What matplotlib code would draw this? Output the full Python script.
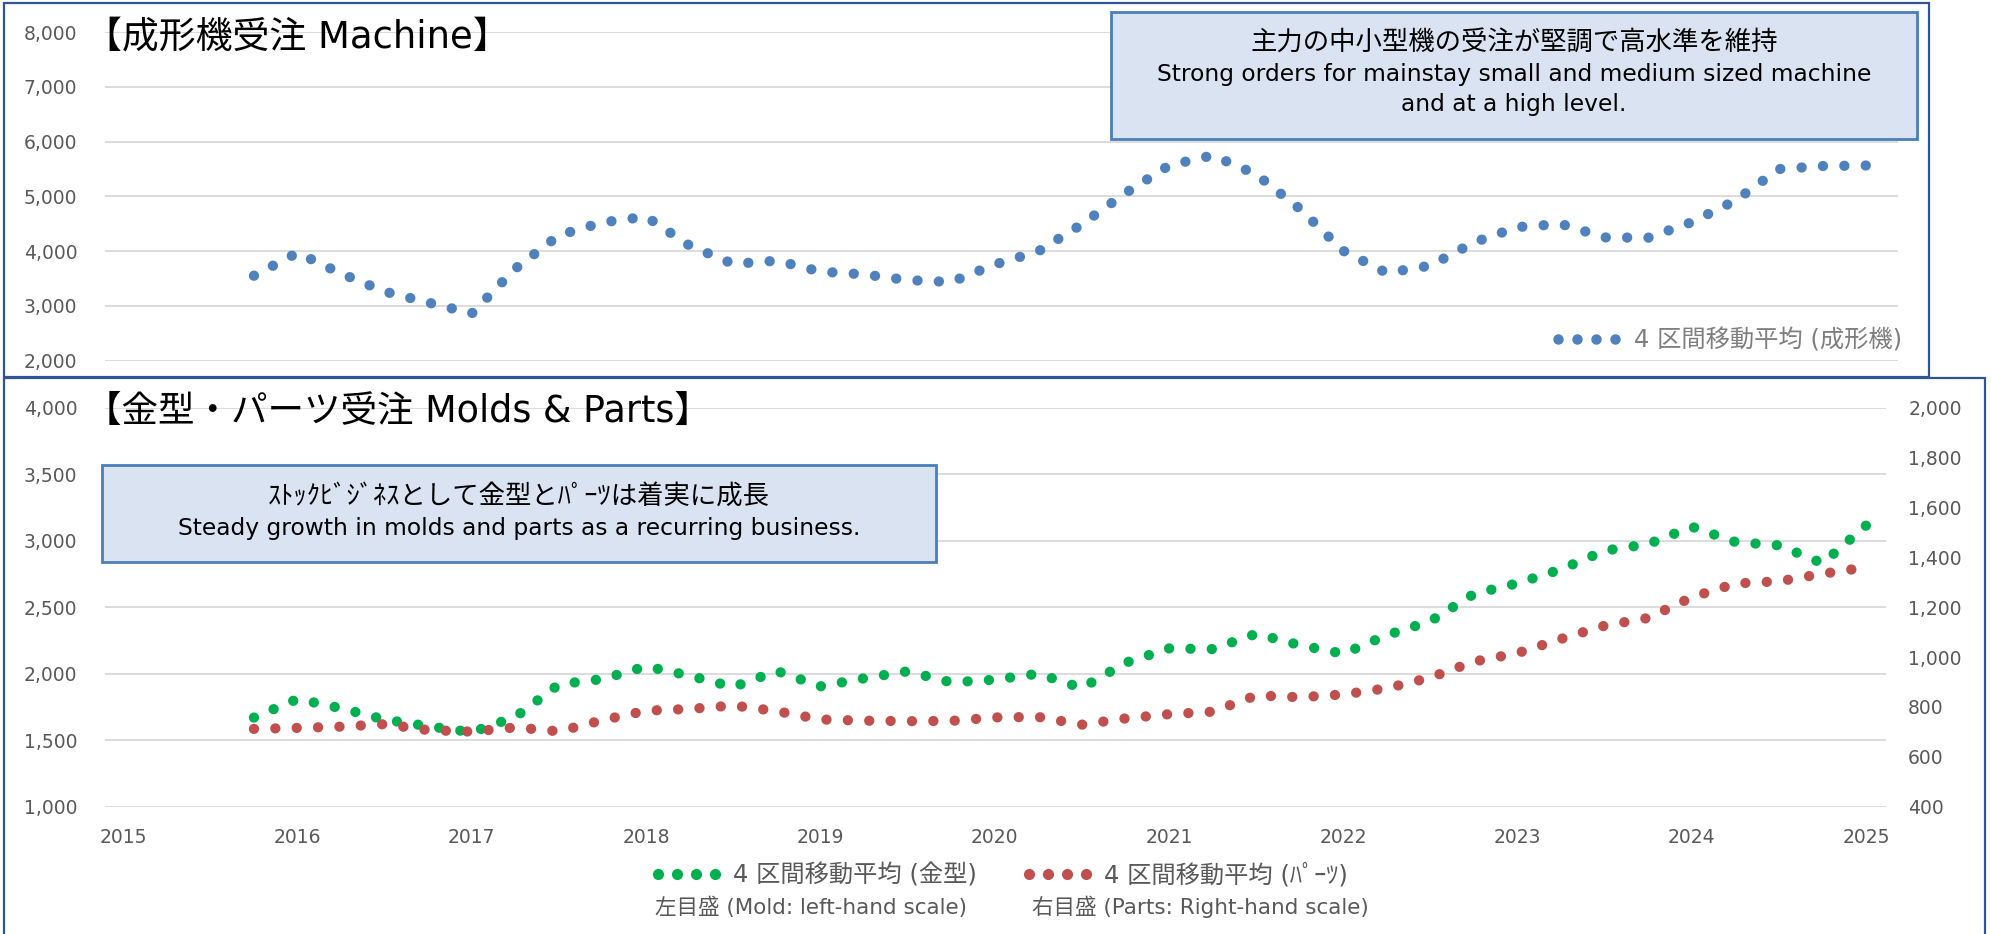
import numpy as np
import pandas as pd
import matplotlib
matplotlib.use('Agg')
import matplotlib.pyplot as plt
from matplotlib.patches import Rectangle
from matplotlib.lines import Line2D
from matplotlib.ticker import FuncFormatter

plt.rcParams['font.family'] = ['DejaVu Sans', 'Noto Sans CJK JP']

# 4-quarter moving averages, 2015Q4 .. 2025Q1
quarters = pd.period_range('2015Q4', '2025Q1', freq='Q')
machine = [3550, 3970, 3590, 3260, 3060, 2860, 3680, 4290, 4525, 4630,
           4100, 3765, 3825, 3625, 3575, 3470, 3435, 3755, 3995, 4490,
           5060, 5565, 5750, 5405, 4775, 4005, 3600, 3735, 4160, 4440,
           4495, 4250, 4245, 4530, 4925, 5500, 5555, 5565]
mold = [1670, 1810, 1740, 1655, 1605, 1560, 1675, 1920, 1960, 2055,
        1985, 1900, 2020, 1905, 1965, 2018, 1935, 1955, 2000, 1892,
        2082, 2190, 2185, 2300, 2215, 2150, 2290, 2395, 2600, 2680,
        2785, 2925, 2975, 3105, 2990, 2965, 2830, 3115]
parts = [712, 716, 721, 731, 707, 701, 718, 702, 747, 785,
         792, 806, 783, 750, 745, 743, 744, 758, 760, 729,
         754, 771, 781, 846, 839, 850, 875, 918, 982, 1016,
         1073, 1126, 1157, 1240, 1295, 1304, 1334, 1360]
years = list(range(2015, 2026))

t = quarters.year + (quarters.quarter - 1) / 4

W, H = 1991, 934
fig = plt.figure(figsize=(W / 100, H / 100), dpi=100)


def fx(px):
    return px / W


def fy(py):
    return 1 - py / H


LW = 7.4  # dot diameter in pt


def dots(ax, x, y, step=21.3):
    # round-dot line; spacing stretched a little so a dot lands on both ends
    p = ax.transData.transform(np.column_stack([x, y]))
    L = np.hypot(*np.diff(p, axis=0).T).sum()
    n = max(1, round(L / step))
    lw_px = LW * 100 / 72
    return dict(lw=LW, ls=(0, (0.01, (L - 0.5) / n / lw_px - 0.01)), dash_capstyle='round')


blue, green, red = '#4F81BD', '#00B050', '#C0504D'
grey = '#595959'
fmt = FuncFormatter(lambda v, p: f'{v:,.0f}')

# --- machine panel
ax1 = fig.add_axes([fx(105), fy(360.5), fx(1898) - fx(105), (360.5 - 32.3) / H])
ax1.set_xlim(2014.8956, 2025.1825)
ax1.set_ylim(2000, 8000)
ax1.plot(t, machine, color=blue, **dots(ax1, t, machine))
ax1.set_yticks(range(2000, 8001, 1000))
ax1.yaxis.set_major_formatter(fmt)
ax1.set_xticks([])
ax1.tick_params(axis='y', length=0, pad=20, labelsize=13.5, colors=grey)

# --- molds & parts panel
ax2 = fig.add_axes([fx(105), fy(806.7), fx(1886) - fx(105), (806.7 - 407.7) / H])
ax2.set_xlim(2014.8956, 2025.1136)
ax2.set_ylim(1000, 4000)
ax3 = ax2.twinx()
ax3.set_ylim(400, 2000)
ax2.plot(t, mold, color=green, **dots(ax2, t, mold))
ax3.plot(t, parts, color=red, lw=LW, ls=(0, (0.01, 2.07)), dash_capstyle='round')
ax2.set_yticks(range(1000, 4001, 500))
ax3.set_yticks(range(400, 2001, 200))
ax2.set_xticks(years)
ax2.yaxis.set_major_formatter(fmt)
ax3.yaxis.set_major_formatter(fmt)
ax2.tick_params(axis='y', length=0, pad=20, labelsize=13.5, colors=grey)
ax2.tick_params(axis='x', length=0, pad=15, labelsize=13.5, colors=grey)
ax3.tick_params(axis='y', length=0, pad=16, labelsize=13.5, colors=grey)

for ax in (ax1, ax2, ax3):
    for s in ax.spines.values():
        s.set_visible(False)
    ax.patch.set_alpha(0)
for ax in (ax1, ax2):
    ax.grid(axis='y', color='#D9D9D9', lw=1.3)
    ax.set_axisbelow(True)

# panel frames
fig.patches.append(Rectangle((fx(4), fy(377)), fx(1929) - fx(4), 374 / H, transform=fig.transFigure,
                             fill=False, ec='#2F5597', lw=1.6))
fig.patches.append(Rectangle((fx(4), fy(940)), fx(1985) - fx(4), 562 / H, transform=fig.transFigure,
                             fill=False, ec='#2F5597', lw=1.6))

# comment boxes
for x0, y0, x1, y1 in [(1111, 12, 1917, 139), (102, 465, 936, 562)]:
    fig.patches.append(Rectangle((fx(x0), fy(y1)), fx(x1) - fx(x0), (y1 - y0) / H,
                                 transform=fig.transFigure, fc='#DAE3F1', ec='#4A7EBB', lw=2))

fig.text(fx(85), fy(37), '【成形機受注 Machine】', fontsize=26.6, va='center')
fig.text(fx(85), fy(411), '【金型・パーツ受注 Molds & Parts】', fontsize=26.3, va='center')

fig.text(fx(1514), fy(43), '主力の中小型機の受注が堅調で高水準を維持', fontsize=19, ha='center', va='center')
fig.text(fx(1514), fy(75), 'Strong orders for mainstay small and medium sized machine',
         fontsize=16.8, ha='center', va='center')
fig.text(fx(1514), fy(104), 'and at a high level.', fontsize=16.8, ha='center', va='center')
fig.text(fx(519), fy(497), 'ｽﾄｯｸﾋﾞｼﾞﾈｽとして金型とﾊﾟｰﾂは着実に成長', fontsize=19, ha='center', va='center')
fig.text(fx(519), fy(528), 'Steady growth in molds and parts as a recurring business.',
         fontsize=16.8, ha='center', va='center')

# legends
leg_kw = dict(loc='center left', bbox_transform=fig.transFigure, frameon=False,
              borderpad=0, borderaxespad=0, numpoints=4, fontsize=17.5,
              handlelength=2.95)
fig.legend([Line2D([], [], ls='none', marker='o', ms=6.5, color=blue)], ['4 区間移動平均 (成形機)'],
           bbox_to_anchor=(fx(1550.7), fy(340)), handletextpad=0.48,
           labelcolor='#7F7F7F', **leg_kw)
fig.legend([Line2D([], [], ls='none', marker='o', ms=7, color=green)], ['4 区間移動平均 (金型)'],
           bbox_to_anchor=(fx(650.7), fy(875)), handletextpad=0.44,
           labelcolor=grey, **leg_kw)
fig.legend([Line2D([], [], ls='none', marker='o', ms=7, color=red)], ['4 区間移動平均 (ﾊﾟｰﾂ)'],
           bbox_to_anchor=(fx(1021.7), fy(875)), handletextpad=0.44,
           labelcolor=grey, **leg_kw)
fig.text(fx(655), fy(907), '左目盛 (Mold: left-hand scale)', fontsize=15.5, color=grey, va='center')
fig.text(fx(1032), fy(907), '右目盛 (Parts: Right-hand scale)', fontsize=15.5, color=grey, va='center')

fig.savefig('out.png', dpi=100)
